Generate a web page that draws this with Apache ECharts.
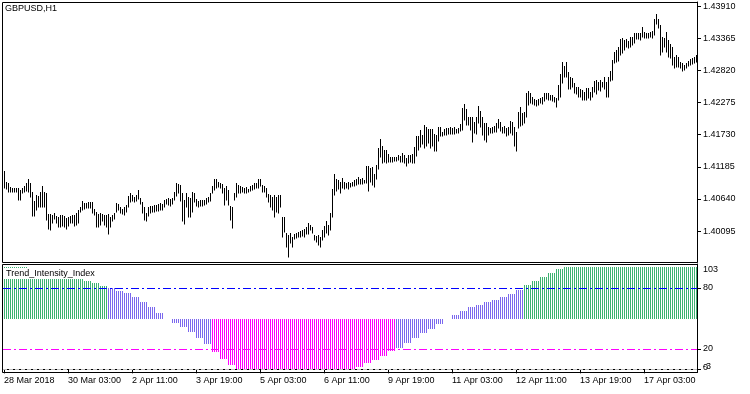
<!DOCTYPE html>
<html><head><meta charset="utf-8">
<script src="https://cdn.jsdelivr.net/npm/echarts@6/dist/echarts.min.js"></script>
<style>html,body{margin:0;padding:0;background:#fff}#c{width:750px;height:394px}</style>
</head><body><div id="c"></div>
<script>
const symbolTitle = 'GBPUSD,H1';
const indicatorTitle = 'Trend_Intensity_Index';
const timeTickLabels = ['28 Mar 2018','30 Mar 03:00','2 Apr 11:00','3 Apr 19:00','5 Apr 03:00','6 Apr 11:00','9 Apr 19:00','11 Apr 03:00','12 Apr 11:00','13 Apr 19:00','17 Apr 03:00'];
const barsPerTimeLabel = 32;
const priceTicks = [1.40095,1.40640,1.41185,1.41730,1.42275,1.42820,1.43365,1.43910];
const subTicks = [0,20,80];
const subLabels = [0,20,80,103];
const subMinLabel = [-3];
const levels = [80,20,0];
const levelColors = ['#0000FF','#FF00FF','#C0C0C0'];
const histBase = 50;

const highs = [
1.41114,1.40933,1.40904,1.40848,1.40831,1.40820,1.40831,1.40831,1.40791,1.40831,
1.40859,1.40904,1.40978,1.40916,1.40763,1.40610,1.40706,1.40689,1.40763,1.40859,
1.40763,1.40735,1.40384,1.40384,1.40367,1.40395,1.40350,1.40327,1.40367,1.40367,
1.40350,1.40310,1.40327,1.40350,1.40367,1.40367,1.40395,1.40452,1.40508,1.40604,
1.40565,1.40576,1.40593,1.40593,1.40593,1.40469,1.40423,1.40384,1.40395,1.40384,
1.40367,1.40367,1.40384,1.40338,1.40367,1.40406,1.40576,1.40554,1.40497,1.40474,
1.40497,1.40537,1.40689,1.40735,1.40706,1.40678,1.40706,1.40791,1.40650,1.40593,
1.40508,1.40395,1.40497,1.40520,1.40520,1.40537,1.40537,1.40554,1.40565,1.40554,
1.40621,1.40633,1.40650,1.40633,1.40650,1.40763,1.40916,1.40893,1.40876,1.40735,
1.40621,1.40746,1.40667,1.40650,1.40763,1.40735,1.40633,1.40610,1.40621,1.40621,
1.40621,1.40650,1.40678,1.40746,1.40859,1.40972,1.40972,1.40933,1.40916,1.40893,
1.40820,1.40859,1.40791,1.40520,1.40497,1.40746,1.40904,1.40876,1.40859,1.40837,
1.40820,1.40837,1.40803,1.40859,1.40876,1.40904,1.40916,1.40972,1.40972,1.40876,
1.40859,1.40820,1.40723,1.40706,1.40678,1.40706,1.40678,1.40706,1.40706,1.40327,
1.40327,1.40055,1.40027,1.40055,1.39999,1.40044,1.40067,1.40084,1.40101,1.40112,
1.40123,1.40169,1.40225,1.40197,1.40157,1.40027,1.40010,1.40027,1.39999,1.40112,
1.40180,1.40271,1.40197,1.40395,1.40803,1.41063,1.40972,1.40961,1.40933,1.40989,
1.40933,1.40916,1.40933,1.40904,1.40933,1.40961,1.40972,1.41006,1.40972,1.40989,
1.40961,1.41199,1.41199,1.41159,1.41176,1.41063,1.41216,1.41499,1.41652,1.41545,
1.41465,1.41471,1.41403,1.41346,1.41346,1.41346,1.41357,1.41386,1.41369,1.41414,
1.41386,1.41329,1.41386,1.41386,1.41403,1.41527,1.41708,1.41708,1.41810,1.41725,
1.41895,1.41867,1.41821,1.41821,1.41821,1.41742,1.41725,1.41867,1.41855,1.41782,
1.41821,1.41838,1.41838,1.41855,1.41838,1.41855,1.41821,1.41838,1.41912,1.42178,
1.42251,1.42161,1.42036,1.42025,1.42025,1.41952,1.42025,1.42218,1.42138,1.42036,
1.41935,1.41923,1.41867,1.41838,1.41855,1.41878,1.41923,1.41991,1.41952,1.41867,
1.41878,1.41838,1.41867,1.41969,1.41952,1.41867,1.41782,1.42121,1.42206,1.42093,
1.42121,1.42433,1.42478,1.42444,1.42364,1.42331,1.42319,1.42331,1.42348,1.42364,
1.42433,1.42444,1.42432,1.42404,1.42404,1.42364,1.42347,1.42574,1.42761,1.42970,
1.42896,1.42970,1.42800,1.42704,1.42687,1.42614,1.42534,1.42534,1.42500,1.42489,
1.42461,1.42517,1.42517,1.42461,1.42534,1.42647,1.42659,1.42630,1.42659,1.42630,
1.42715,1.42630,1.42715,1.42817,1.42998,1.43140,1.43168,1.43225,1.43349,1.43366,
1.43338,1.43349,1.43327,1.43383,1.43383,1.43451,1.43451,1.43462,1.43451,1.43564,
1.43479,1.43451,1.43451,1.43479,1.43496,1.43689,1.43779,1.43689,1.43593,1.43394,
1.43366,1.43479,1.43338,1.43270,1.43225,1.43055,1.43083,1.43044,1.42970,1.42942,
1.42913,1.42953,1.42987,1.43010,1.43027,1.43055,1.43083
];
const lows = [
1.40820,1.40803,1.40763,1.40763,1.40752,1.40763,1.40763,1.40621,1.40621,1.40735,
1.40763,1.40780,1.40763,1.40678,1.40355,1.40355,1.40452,1.40508,1.40497,1.40497,
1.40508,1.40282,1.40129,1.40112,1.40225,1.40293,1.40237,1.40169,1.40169,1.40186,
1.40169,1.40129,1.40180,1.40225,1.40225,1.40180,1.40197,1.40225,1.40423,1.40452,
1.40463,1.40480,1.40480,1.40480,1.40395,1.40367,1.40169,1.40169,1.40197,1.40271,
1.40197,1.40169,1.40038,1.40169,1.40271,1.40293,1.40412,1.40452,1.40406,1.40384,
1.40367,1.40423,1.40508,1.40593,1.40604,1.40582,1.40604,1.40633,1.40554,1.40406,
1.40282,1.40271,1.40350,1.40406,1.40423,1.40423,1.40435,1.40435,1.40452,1.40452,
1.40508,1.40548,1.40537,1.40520,1.40554,1.40621,1.40689,1.40746,1.40610,1.40271,
1.40214,1.40508,1.40327,1.40338,1.40423,1.40593,1.40520,1.40497,1.40520,1.40520,
1.40537,1.40554,1.40593,1.40604,1.40735,1.40791,1.40820,1.40837,1.40820,1.40735,
1.40537,1.40621,1.40537,1.40282,1.40152,1.40621,1.40678,1.40735,1.40746,1.40752,
1.40735,1.40735,1.40763,1.40780,1.40791,1.40803,1.40820,1.40820,1.40859,1.40763,
1.40763,1.40678,1.40593,1.40508,1.40452,1.40327,1.40423,1.40395,1.40508,1.39999,
1.40084,1.39829,1.39659,1.39886,1.39829,1.39954,1.39971,1.39988,1.39999,1.40010,
1.39999,1.40044,1.40044,1.40112,1.40055,1.39942,1.39914,1.39857,1.39829,1.39942,
1.39999,1.40055,1.40027,1.40112,1.40327,1.40706,1.40780,1.40803,1.40746,1.40820,
1.40803,1.40820,1.40803,1.40837,1.40859,1.40859,1.40876,1.40893,1.40893,1.40893,
1.40916,1.40904,1.40780,1.40933,1.40876,1.40837,1.40972,1.41142,1.41357,1.41244,
1.41270,1.41244,1.41267,1.41272,1.41267,1.41284,1.41289,1.41301,1.41272,1.41272,
1.41244,1.41199,1.41255,1.41272,1.41255,1.41244,1.41369,1.41470,1.41527,1.41572,
1.41499,1.41538,1.41584,1.41499,1.41538,1.41459,1.41459,1.41629,1.41708,1.41708,
1.41725,1.41725,1.41742,1.41742,1.41742,1.41742,1.41765,1.41765,1.41799,1.41810,
1.41980,1.41895,1.41895,1.41810,1.41612,1.41754,1.41742,1.41923,1.41855,1.41725,
1.41640,1.41612,1.41725,1.41754,1.41765,1.41782,1.41782,1.41838,1.41799,1.41754,
1.41765,1.41708,1.41725,1.41765,1.41725,1.41538,1.41459,1.41838,1.41878,1.41895,
1.41935,1.42025,1.42234,1.42274,1.42251,1.42234,1.42217,1.42234,1.42263,1.42251,
1.42308,1.42331,1.42319,1.42319,1.42308,1.42291,1.42206,1.42319,1.42376,1.42602,
1.42715,1.42715,1.42500,1.42500,1.42534,1.42444,1.42421,1.42376,1.42364,1.42319,
1.42319,1.42319,1.42347,1.42319,1.42364,1.42461,1.42421,1.42489,1.42478,1.42534,
1.42500,1.42376,1.42376,1.42647,1.42659,1.42953,1.42970,1.42987,1.43083,1.43111,
1.43168,1.43225,1.43196,1.43225,1.43253,1.43293,1.43349,1.43349,1.43338,1.43383,
1.43366,1.43366,1.43366,1.43383,1.43366,1.43423,1.43609,1.43536,1.43083,1.43140,
1.43225,1.43140,1.43055,1.43027,1.42913,1.42857,1.42874,1.42885,1.42857,1.42817,
1.42829,1.42857,1.42896,1.42913,1.42930,1.42942,1.42970
];
const tii = [
100.8,100.8,100.8,100.8,100.8,100.8,100.8,100.8,
100.8,100.8,100.8,100.8,99,99,99,99,
97,97,97,97,95,95,95,95,
93,93,93,93,91.5,91.5,91.5,91.5,
90,90,90,90,88.8,88.8,88.8,88.8,
87.1,87.1,87.1,87.1,84.5,84.5,84.5,84.5,
82.2,82.2,82.2,82.2,79.6,79.6,79.6,79.6,
77.3,77.3,77.3,77.3,74.7,74.7,74.7,74.7,
71.1,71.1,71.1,71.1,66.2,66.2,66.2,66.2,
61.3,61.3,61.3,61.3,55.7,55.7,55.7,55.7,
49.2,49.2,49.2,49.2,45.3,45.3,45.3,45.3,
41.9,41.9,41.9,41.9,36.5,36.5,36.5,36.5,
31.2,31.2,31.2,31.2,24.7,24.7,24.7,24.7,
16.8,16.8,16.8,16.8,10.0,10.0,10.0,10.0,
4.1,4.1,4.1,4.1,0.7,0.7,0.7,0.7,
0.2,0.2,0.2,0.2,0.2,0.2,0.2,0.2,
0.2,0.2,0.2,0.2,0.2,0.2,0.2,0.2,
0.2,0.2,0.2,0.2,0.2,0.2,0.2,0.2,
0.2,0.2,0.2,0.2,0.2,0.2,0.2,0.2,
0.2,0.2,0.2,0.2,0.2,0.2,0.2,0.2,
0.2,0.2,0.2,0.2,0.2,0.2,0.2,0.2,
0.2,0.2,0.2,0.2,0.2,0.2,0.2,0.2,
2.0,2.0,2.0,2.0,5.9,5.9,5.9,5.9,
9.2,9.2,9.2,9.2,13.4,13.4,13.4,13.4,
18.0,18.0,18.0,18.0,21.3,21.3,21.3,21.3,
26.2,26.2,26.2,26.2,31.2,31.2,31.2,31.2,
36.1,36.1,36.1,36.1,39.7,39.7,39.7,39.7,
44.6,44.6,44.6,44.6,49.4,49.4,49.4,49.4,
53.4,53.4,53.4,53.4,57.4,57.4,57.4,57.4,
61.3,61.3,61.3,61.3,63.5,63.5,63.5,63.5,
66.2,66.2,66.2,66.2,68.1,68.1,68.1,68.1,
71.1,71.1,71.1,71.1,74.0,74.0,74.0,74.0,
78.0,78.0,78.0,78.0,82.9,82.9,82.9,82.9,
86.8,86.8,86.8,86.8,90.7,90.7,90.7,90.7,
94.4,94.4,94.4,94.4,98.3,98.3,98.3,98.3,
100.8,100.8,100.8,100.8,100.8,100.8,100.8,100.8,
100.8,100.8,100.8,100.8,100.8,100.8,100.8,100.8,
100.8,100.8,100.8,100.8,100.8,100.8,100.8,100.8,
100.8,100.8,100.8,100.8,100.8,100.8,100.8,100.8,
100.8,100.8,100.8,100.8,100.8,100.8,100.8,100.8,
100.8,100.8,100.8,100.8,100.8,100.8,100.8,100.8,
100.8,100.8,100.8,100.8,100.8,100.8,100.8,100.8,
100.8,100.8,100.8,100.8,100.8,100.8,100.8,100.8,
100.8,100.8,100.8
];

// hourly bar times (weekends skipped), used as category names
const categories = [];
(function(){
  let t = Date.UTC(2018, 2, 28, 19);
  while (categories.length < highs.length) {
    const d = new Date(t);
    const wd = d.getUTCDay();
    if (wd !== 0 && wd !== 6) categories.push(d.toISOString().slice(0,16));
    t += 3600000;
  }
})();

const FONT = "'Liberation Sans', Arial, sans-serif";
const FS = 9;
const COL_UP = '#3CB371', COL_MID = '#7B68EE', COL_DN = '#FF00FF';
const txt = {fontSize: FS, fontFamily: FONT, color: '#000'};
const SUB_MIN = -3, SUB_MAX = 103.6;
const levelDash = [[8, 3, 2, 3], [8, 3, 2, 3], [4, 2]];

const chart = echarts.init(document.getElementById('c'), null, {renderer: 'canvas'});
chart.setOption({
  animation: false,
  backgroundColor: '#fff',
  title: [
    {text: symbolTitle, left: 5, top: 3, padding: 0,
     textStyle: Object.assign({fontWeight: 'normal', lineHeight: 11}, txt)},
    {text: indicatorTitle, left: 4, top: 268, padding: [0, 1, 0, 2], backgroundColor: '#fff',
     textStyle: Object.assign({fontWeight: 'normal', lineHeight: 11}, txt)}
  ],
  grid: [
    {left: 3, top: 2, width: 694, height: 260, show: false},
    {left: 3, top: 264, width: 694, height: 108.4, show: false}
  ],
  xAxis: [
    {type: 'category', gridIndex: 0, data: categories, show: false, boundaryGap: true},
    {type: 'category', gridIndex: 1, data: categories, boundaryGap: true, position: 'bottom',
     axisLine: {show: true, lineStyle: {color: '#000', width: 1}},
     axisTick: {show: true, interval: barsPerTimeLabel - 1, alignWithLabel: true, length: 4, lineStyle: {color: '#000'}},
     axisLabel: Object.assign({show: true, interval: barsPerTimeLabel - 1, align: 'left', margin: 4, hideOverlap: false,
       formatter: (v, idx) => timeTickLabels[Math.round(idx / barsPerTimeLabel)] || ''}, txt),
     splitLine: {show: false}}
  ],
  yAxis: [
    {type: 'value', gridIndex: 0, position: 'right', min: 1.39569, max: 1.43983, scale: true,
     axisLine: {show: true, lineStyle: {color: '#000'}},
     axisTick: {show: true, length: 4, customValues: priceTicks, lineStyle: {color: '#000'}},
     axisLabel: Object.assign({show: true, customValues: priceTicks, margin: 6, hideOverlap: false,
       formatter: v => v.toFixed(5)}, txt),
     splitLine: {show: false}},
    {type: 'value', gridIndex: 1, position: 'right', min: SUB_MIN, max: SUB_MAX,
     axisLine: {show: true, lineStyle: {color: '#000'}},
     axisTick: {show: true, length: 4, customValues: subTicks, lineStyle: {color: '#000'}},
     axisLabel: Object.assign({show: true, customValues: subLabels, margin: 6, hideOverlap: false,
       formatter: v => {
         const r = Math.round(v);
         if (r === subLabels[3]) return '{dn|' + r + '}';
         if (r === subLabels[0]) return '{up2|' + r + '}';
         return String(r);
       },
       rich: {
         dn: Object.assign({padding: [10, 0, 0, 0]}, txt),
         up2: Object.assign({padding: [0, 0, 4, 0]}, txt)
       }}, txt),
     splitLine: {show: false}},
    {type: 'value', gridIndex: 1, position: 'right', offset: 0, min: SUB_MIN, max: SUB_MAX,
     axisLine: {show: false}, axisTick: {show: false}, splitLine: {show: false},
     axisLabel: Object.assign({show: true, customValues: subMinLabel, margin: 6, hideOverlap: false,
       showMinLabel: true,
       formatter: v => '{up6|' + Math.round(v) + '}',
       rich: {up6: Object.assign({padding: [0, 0, 12, 0]}, txt)}}, txt)}
  ],
  graphic: [
    {type: 'rect', shape: {x: 2.5, y: 2.5, width: 695, height: 260}, style: {fill: null, stroke: '#000', lineWidth: 1}, silent: true, z: 100},
    {type: 'rect', shape: {x: 2.5, y: 264.5, width: 695, height: 108}, style: {fill: null, stroke: '#000', lineWidth: 1}, silent: true, z: 100}
  ],
  series: [
    {
      type: 'custom', xAxisIndex: 0, yAxisIndex: 0, silent: true, clip: true,
      data: highs.map((h, i) => [i, lows[i], h]),
      encode: {x: 0, y: [1, 2]},
      renderItem: (params, api) => {
        const i = api.value(0);
        const lo = api.coord([i, api.value(1)]);
        const hi = api.coord([i, api.value(2)]);
        const x = Math.round(lo[0]) + 0.5;
        return {type: 'line', shape: {x1: x, y1: Math.round(lo[1]) + 0.5, x2: x, y2: Math.round(hi[1])},
                style: {stroke: '#000', lineWidth: 1}};
      }
    },
    {
      type: 'custom', xAxisIndex: 1, yAxisIndex: 1, silent: true, clip: true, z: 2,
      data: tii.map((v, i) => [i, v]),
      encode: {x: 0, y: 1},
      renderItem: (params, api) => {
        const i = api.value(0), v = api.value(1);
        const b = api.coord([i, histBase]);
        const t = api.coord([i, v]);
        const x = Math.round(b[0]) + 0.5;
        const col = v > levels[0] ? COL_UP : (v < levels[1] ? COL_DN : COL_MID);
        return {type: 'line', shape: {x1: x, y1: Math.round(b[1]), x2: x, y2: Math.round(t[1])},
                style: {stroke: col, lineWidth: 1}};
      }
    },
    {
      type: 'custom', xAxisIndex: 1, yAxisIndex: 1, silent: true, clip: false, z: 5,
      data: levels.map((v, k) => [0, v, k]),
      encode: {y: 1},
      renderItem: (params, api) => {
        const cs = params.coordSys;
        const k = api.value(2);
        const y = Math.round(api.coord([0, api.value(1)])[1]) + 0.5;
        return {type: 'line', shape: {x1: cs.x, y1: y, x2: cs.x + cs.width, y2: y},
                style: {stroke: levelColors[k], lineWidth: 1, lineDash: levelDash[k]}};
      }
    }
  ]
});
</script>
</body></html>
